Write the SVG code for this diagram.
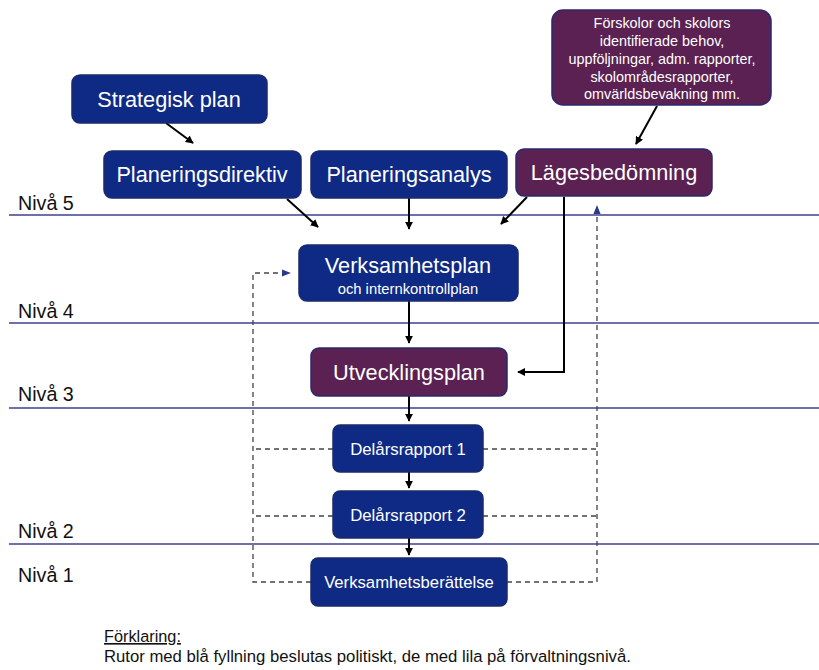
<svg xmlns="http://www.w3.org/2000/svg" width="819" height="670" viewBox="0 0 819 670">
<style>
text{font-family:"Liberation Sans",Arial,sans-serif}
.b{fill:#0f2a85;stroke:#1b2a6b;stroke-width:1.5}
.p{fill:#5a2152;stroke:#2a2a6e;stroke-width:1.5}
.t{fill:#fff;text-anchor:middle}
.lvl{stroke:#3f3f8f;stroke-width:1.5}
.lab{font-size:19.7px;fill:#111}
.a{stroke:#000;stroke-width:2;fill:none;marker-end:url(#ah)}
.d{stroke:#444;stroke-width:1.3;stroke-dasharray:5,4;fill:none}
</style>
<defs>
<marker id="ah" viewBox="0 0 10 10" refX="9" refY="5" markerWidth="4" markerHeight="4" orient="auto"><path d="M0,0L10,5L0,10z" fill="#000"/></marker>
<marker id="bh" viewBox="0 0 10 10" refX="9" refY="5" markerWidth="7" markerHeight="7" orient="auto"><path d="M0,1L10,5L0,9z" fill="#2a3a8a"/></marker>
</defs>
<g id="levels">
<line class="lvl" x1="9" y1="215" x2="819" y2="215"/>
<line class="lvl" x1="9" y1="323" x2="819" y2="323"/>
<line class="lvl" x1="9" y1="408" x2="819" y2="408"/>
<line class="lvl" x1="9" y1="544" x2="819" y2="544"/>
<text class="lab" x="18" y="210">Nivå 5</text>
<text class="lab" x="18" y="318">Nivå 4</text>
<text class="lab" x="18" y="401">Nivå 3</text>
<text class="lab" x="18" y="538">Nivå 2</text>
<text class="lab" x="18" y="582">Nivå 1</text>
</g>
<g id="connectors">
<line class="a" x1="166" y1="123" x2="193" y2="143"/>
<line class="a" x1="287" y1="199" x2="318" y2="227"/>
<line class="a" x1="409" y1="198" x2="409" y2="229"/>
<line class="a" x1="527" y1="197" x2="501" y2="224"/>
<line class="a" x1="657" y1="106" x2="636" y2="144"/>
<polyline class="a" points="564,197 564,372 518,372"/>
<line class="a" x1="409" y1="301" x2="409" y2="343"/>
<line class="a" x1="409" y1="396" x2="409" y2="421"/>
<line class="a" x1="409" y1="472" x2="409" y2="488"/>
<line class="a" x1="409" y1="538" x2="409" y2="555"/>
<polyline class="d" points="333,449 253,449"/>
<polyline class="d" points="333,516 253,516"/>
<polyline class="d" points="311,582 253,582 253,273 290,273" marker-end="url(#bh)"/>
<polyline class="d" points="483,449 597,449"/>
<polyline class="d" points="483,516 597,516"/>
<polyline class="d" points="507,582 597,582 597,206" marker-end="url(#bh)"/>
</g>
<g id="forskolor">
<rect class="p" x="552" y="10" width="219" height="95" rx="11"/>
<text class="t" font-size="14.4" x="662" y="28">Förskolor och skolors</text>
<text class="t" font-size="14.4" x="662" y="46">identifierade behov,</text>
<text class="t" font-size="14.4" x="662" y="64">uppföljningar, adm. rapporter,</text>
<text class="t" font-size="14.4" x="662" y="82">skolområdesrapporter,</text>
<text class="t" font-size="14.4" x="662" y="99">omvärldsbevakning mm.</text>
</g>
<g id="strategisk">
<rect class="b" x="72" y="75" width="195" height="48" rx="8"/>
<text class="t" font-size="21.7" x="169" y="107">Strategisk plan</text>
</g>
<g id="planeringsdirektiv">
<rect class="b" x="104" y="151" width="197" height="47" rx="8"/>
<text class="t" font-size="21.7" x="202" y="182">Planeringsdirektiv</text>
</g>
<g id="planeringsanalys">
<rect class="b" x="311" y="151" width="196" height="47" rx="8"/>
<text class="t" font-size="21.7" x="409" y="182">Planeringsanalys</text>
</g>
<g id="lagesbedomning">
<rect class="p" x="516" y="149" width="196" height="47" rx="8"/>
<text class="t" font-size="21.7" x="614" y="180">Lägesbedömning</text>
</g>
<g id="verksamhetsplan">
<rect class="b" x="299" y="245" width="219" height="56" rx="8"/>
<text class="t" font-size="21.7" x="408" y="273">Verksamhetsplan</text>
<text class="t" font-size="14.8" x="408" y="294">och internkontrollplan</text>
</g>
<g id="utvecklingsplan">
<rect class="p" x="311" y="348" width="196" height="48" rx="8"/>
<text class="t" font-size="21.7" x="409" y="380">Utvecklingsplan</text>
</g>
<g id="delars1">
<rect class="b" x="333" y="425" width="150" height="47" rx="7"/>
<text class="t" font-size="16.8" x="408" y="455">Delårsrapport 1</text>
</g>
<g id="delars2">
<rect class="b" x="333" y="491" width="150" height="47" rx="7"/>
<text class="t" font-size="16.8" x="408" y="521">Delårsrapport 2</text>
</g>
<g id="verksamhetsberattelse">
<rect class="b" x="311" y="558" width="196" height="48" rx="7"/>
<text class="t" font-size="16.7" x="409" y="588">Verksamhetsberättelse</text>
</g>
<g id="legend">
<text x="104" y="642" font-size="16.3" fill="#111" text-decoration="underline">Förklaring:</text>
<text x="104" y="662" font-size="16.7" fill="#111">Rutor med blå fyllning beslutas politiskt, de med lila på förvaltningsnivå.</text>
</g>
</svg>
